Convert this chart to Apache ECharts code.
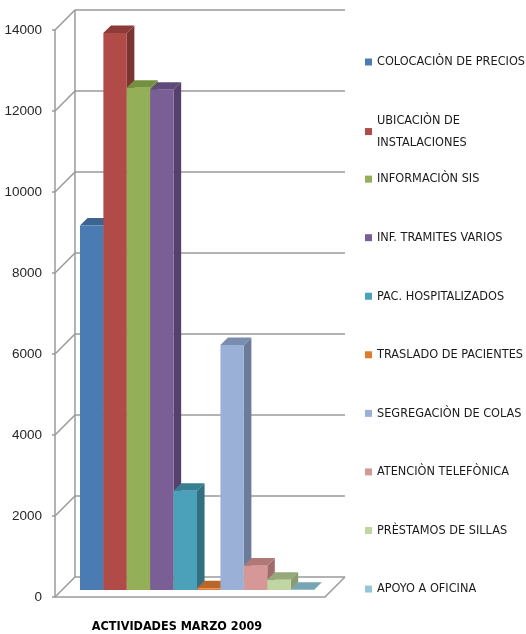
<!DOCTYPE html>
<html>
<head>
<meta charset="utf-8">
<script src="https://cdn.jsdelivr.net/npm/echarts@6/dist/echarts.min.js"></script>
<style>html,body{margin:0;padding:0;background:#fff}#c{width:526px;height:634px}</style>
</head>
<body>
<div id="c"></div>
<script>
const categories = ['ACTIVIDADES MARZO 2009'];
const seriesNames = [
  'COLOCACIÒN DE PRECIOS',
  'UBICACIÒN DE\nINSTALACIONES',
  'INFORMACIÒN SIS',
  'INF. TRAMITES VARIOS',
  'PAC. HOSPITALIZADOS',
  'TRASLADO DE PACIENTES',
  'SEGREGACIÒN DE COLAS',
  'ATENCIÒN TELEFÒNICA',
  'PRÈSTAMOS DE SILLAS',
  'APOYO A OFICINA'
];
const seriesValues = [9000, 13750, 12400, 12350, 2450, 40, 6050, 600, 250, 5];
const yTicks = [0, 2000, 4000, 6000, 8000, 10000, 12000, 14000];

const frontColors = ['#4A7CB3', '#B04B48', '#93AF57', '#7A5F97', '#4AA1B9', '#DF7B2E', '#9AB0D6', '#D69896', '#C0D6A0', '#93C6D6'];
const sideColors  = ['#34587F', '#7C3432', '#697F3E', '#55426C', '#336F80', '#A85A20', '#6A7C99', '#A06C6B', '#8A9C70', '#6C9CAA'];
const topColors   = ['#3C6391', '#8D3B38', '#74903F', '#5F4B79', '#387F92', '#B8662A', '#7A8DAF', '#B07877', '#95A97A', '#76A6B4'];

const FONT = "'Liberation Sans Narrow', 'DejaVu Sans Condensed', sans-serif";
const NUMFONT = "'Liberation Sans', Arial, sans-serif";
const N = seriesNames.length;

const chart = echarts.init(document.getElementById('c'), null, {renderer: 'canvas'});

function frameRender(params, api) {
  const c0 = api.coord([0, 0]);
  const bw = api.size([1, 0])[0];
  const x0 = c0[0] - bw / 2, x1 = c0[0] + bw / 2;
  const d = bw * 0.074;
  const yTop = api.coord([0, yTicks[yTicks.length - 1]])[1];
  const children = [];
  const ls = {stroke: '#9A9A9A', lineWidth: 1.5, fill: null};
  yTicks.forEach(t => {
    const y = api.coord([0, t])[1];
    children.push({type: 'polyline', shape: {points: [[x0, y], [x0 + d, y - d], [x1 + d, y - d]]}, style: ls});
  });
  children.push({type: 'line', shape: {x1: x0 + d, y1: c0[1] - d, x2: x0 + d, y2: yTop - d}, style: ls});
  children.push({type: 'line', shape: {x1: x1, y1: c0[1], x2: x1 + d, y2: c0[1] - d}, style: ls});
  return {type: 'group', children: children, silent: true};
}

function barRender(i) {
  return function (params, api) {
    const c0 = api.coord([0, 0]);
    const cv = api.coord([0, api.value(1)]);
    const bw = api.size([1, 0])[0];
    const w = bw * 0.0867;
    const off = bw * 0.026;
    const dep = bw * 0.028;
    const xL = c0[0] - N * w / 2 + i * w + off;
    const xR = xL + w;
    const yB = c0[1] - off;
    const yT = cv[1] - off;
    return {
      type: 'group',
      children: [
        {type: 'polygon', shape: {points: [[xR, yB], [xR + dep, yB - dep], [xR + dep, yT - dep], [xR, yT]]}, style: {fill: sideColors[i], stroke: null}},
        {type: 'polygon', shape: {points: [[xL, yT], [xL + dep, yT - dep], [xR + dep, yT - dep], [xR, yT]]}, style: {fill: topColors[i], stroke: null}},
        {type: 'rect', shape: {x: xL, y: yT, width: w, height: Math.max(yB - yT, 0)}, style: {fill: frontColors[i], stroke: null}}
      ]
    };
  };
}

const series = [{
  type: 'custom', name: '_frame', data: [[0, 0]], renderItem: frameRender, z: 0, silent: true, clip: false
}];
seriesNames.forEach((name, i) => {
  series.push({
    type: 'custom', name: name, data: [[0, seriesValues[i]]], renderItem: barRender(i), z: 3, clip: false,
    itemStyle: {color: frontColors[i]}
  });
});

const legends = seriesNames.map((name, i) => ({
  data: [name],
  orient: 'vertical',
  left: 365,
  top: 62 + i * 58.56 - 11,
  padding: 0,
  itemWidth: 7,
  itemHeight: 7,
  icon: 'rect',
  selectedMode: false,
  textStyle: {fontFamily: FONT, fontSize: 12.6, lineHeight: 22, color: '#1A1A1A'}
}));

chart.setOption({
  animation: false,
  backgroundColor: '#fff',
  grid: {left: 55, right: 201, top: 30, bottom: 37, containLabel: false},
  legend: legends,
  xAxis: {
    type: 'category',
    data: categories,
    axisLine: {show: true, lineStyle: {color: '#9A9A9A', width: 1.5}},
    axisTick: {show: false},
    axisLabel: {fontFamily: FONT, fontSize: 12.5, fontWeight: 'bold', color: '#000', margin: 23, padding: [0, 26, 0, 0]}
  },
  yAxis: {
    type: 'value',
    min: yTicks[0],
    max: yTicks[yTicks.length - 1],
    interval: yTicks[1] - yTicks[0],
    axisLine: {show: true, lineStyle: {color: '#9A9A9A', width: 1.5}},
    axisTick: {show: true, length: 3, lineStyle: {color: '#9A9A9A', width: 1.5}},
    splitLine: {show: false},
    axisLabel: {fontFamily: NUMFONT, fontSize: 13.5, color: '#262626', margin: 13, formatter: v => String(v)}
  },
  tooltip: {show: false},
  series: series
});
</script>
</body>
</html>
